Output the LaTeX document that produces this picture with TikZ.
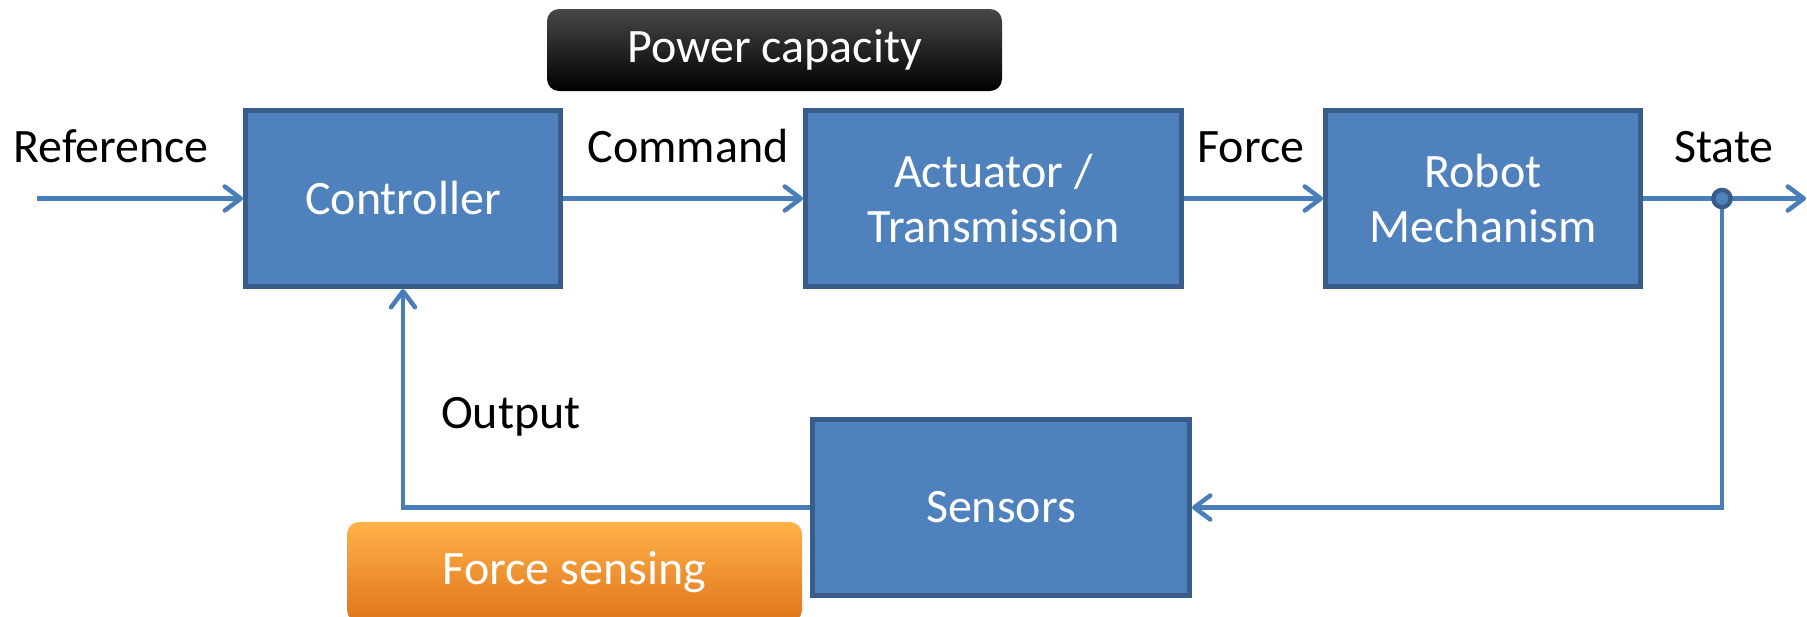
\documentclass[tikz,border=0pt]{standalone}
\usepackage{fontspec}
\setmainfont{Carlito}
\usetikzlibrary{arrows.meta,positioning}
\definecolor{boxfill}{RGB}{79,129,189}
\definecolor{boxedge}{RGB}{56,93,138}
\definecolor{wire}{RGB}{74,126,187}
\definecolor{orTop}{RGB}{255,178,72}
\definecolor{orMid}{RGB}{250,152,45}
\definecolor{orBot}{RGB}{224,116,28}
\tikzset{
  blockbox/.style={draw=boxedge, fill=boxfill, line width=2.5pt, text=white,
    align=center, inner sep=0pt, minimum height=88pt,
    font=\fontsize{24}{27.5}\selectfont},
  wirestyle/.style={draw=wire, line width=2.25pt,
    -{Straight Barb[length=8pt,width=12pt,round]}},
  lbl/.style={anchor=base, inner sep=0pt, font=\fontsize{24}{27.5}\selectfont},
  tagbox/.style={rounded corners=6pt, text=white, inner sep=0pt,
    font=\fontsize{24}{27.5}\selectfont}
}
\begin{document}
\begin{tikzpicture}[x=0.5pt,y=-0.5pt]
\useasboundingbox (0,0) rectangle (1807,616);

% main blocks
\node[blockbox, minimum width=157.5pt] (ctrl) at (403,198.5) {Controller};
\node[blockbox, minimum width=188pt] (act) at (993.5,198.5) {Actuator /\\Transmission};
\node[blockbox, minimum width=157.5pt] (robot) at (1483,198.5) {Robot\\Mechanism};
\node[blockbox, minimum width=188.5pt] (sens) at (1001,507.5) {Sensors};

% highlighted tags
\node[tagbox, top color=black!72, middle color=black, bottom color=black,
  minimum width=227.5pt, minimum height=41pt] (power) at (774.5,50) {\raisebox{-2pt}{Power capacity}};
\node[tagbox, top color=orTop, middle color=orMid, bottom color=orBot,
  minimum width=227.5pt, minimum height=50pt] (fsense) at (574.5,572) {Force sensing};

% signal labels
\node[lbl] (lref) at (111,162) {Reference};
\node[lbl] (lcmd) at (688,162) {Command};
\node[lbl] (lforce) at (1251,162) {Force};
\node[lbl] (lstate) at (1724,162) {State};
\node[lbl] (lout) at (511,428) {Output};

% free ends and branch point
\coordinate (refin) at (37,198.5);
\coordinate (stateout) at (1806,198.5);
\coordinate (branch) at (1722,198.5);

% forward path
\draw[wirestyle] (refin) -- (ctrl.west);
\draw[wirestyle] (ctrl.east) -- (act.west);
\draw[wirestyle] (act.east) -- (robot.west);
\draw[wirestyle] (robot.east) -- (stateout);

% feedback path
\draw[wirestyle] (branch) |- (sens.east);
\draw[wirestyle] (sens.west) -| (ctrl.south);

% branch dot
\fill[boxfill, draw=boxedge, line width=2.2pt] (branch) circle (4.3pt);
\end{tikzpicture}
\end{document}
